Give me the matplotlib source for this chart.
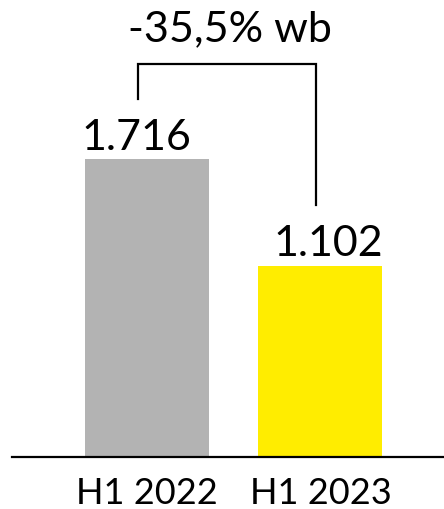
import matplotlib.pyplot as plt

categories = ["H1 2022", "H1 2023"]
values = [1716, 1102]
value_labels = ["1.716", "1.102"]
change_label = "-35,5% wb"
colors = ["#b3b3b3", "#ffed00"]

plt.rcParams['font.family'] = ['Lato', 'DejaVu Sans']

fig = plt.figure(figsize=(4.44, 5.10), dpi=100)
ax = fig.add_axes([0.027, 0.102, 0.973, 0.898])

x = [0, 1]
ax.bar(x, values, width=0.715, color=colors, zorder=2)
ax.set_xlim(-0.778, 1.712)
ax.set_ylim(0, 2637)

# value labels
label_dx = [-0.06, 0.045]
for xi, v, lab, dx in zip(x, values, value_labels, label_dx):
    ax.text(xi + dx, v + 60, lab, ha='center', va='baseline', fontsize=31, color='black')

# bracket between the bars
bx0, bx1 = -0.052, 0.974
top = 2263
ax.plot([bx0, bx0, bx1, bx1], [values[0] + 345, top, top, values[1] + 350],
        color='black', lw=1.6, solid_joinstyle='miter', zorder=3)
ax.text((bx0 + bx1) / 2 + 0.02, 2400, change_label, ha='center', va='baseline',
        fontsize=31, color='black')

for s in ['top', 'right', 'left']:
    ax.spines[s].set_visible(False)
ax.spines['bottom'].set_linewidth(1.6)
ax.set_yticks([])
ax.set_xticks(x)
ax.set_xticklabels(categories, fontsize=26)
ax.tick_params(axis='x', length=0, pad=14)

fig.savefig("out.png", dpi=100)
